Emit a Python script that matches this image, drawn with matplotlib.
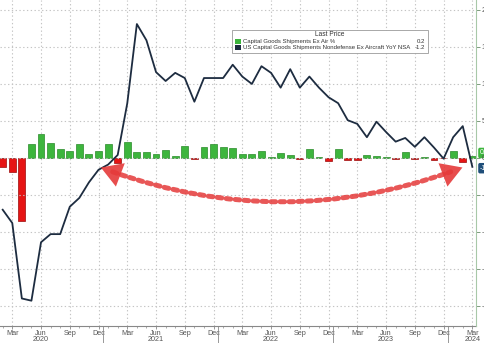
import numpy as np
import matplotlib
matplotlib.use("Agg")
import matplotlib.pyplot as plt
import matplotlib.transforms as mtransforms
from matplotlib.patches import Rectangle, FancyArrowPatch

# monthly data, Feb 2020 .. Mar 2024
month_names = ['Jan', 'Feb', 'Mar', 'Apr', 'May', 'Jun', 'Jul', 'Aug', 'Sep', 'Oct', 'Nov', 'Dec']
start_year, start_month = 2020, 2   # Feb 2020

# US Capital Goods Shipments Nondefense Ex Aircraft YoY NSA (right axis)
yoy = [-7.0, -8.8, -19.0, -19.3, -11.4, -10.3, -10.3, -6.6, -5.4, -3.3, -1.6,
       -0.9, 0.4, 7.4, 18.1, 15.9, 11.6, 10.4, 11.5, 10.8, 7.6, 10.8, 10.8,
       10.8, 12.6, 11.0, 10.0, 12.4, 11.5, 9.5, 12.0, 9.5, 11.0, 9.5, 8.2,
       7.4, 5.1, 4.6, 2.8, 4.9, 3.5, 2.2, 2.7, 1.5, 2.8, 1.4, -0.1,
       2.8, 4.3, -1.2]

# Capital Goods Shipments Ex Air % (MoM, hidden left axis)
mom = [-0.8, -1.3, -5.7, 1.3, 2.2, 1.4, 0.8, 0.6, 1.3, 0.35, 0.65,
       1.3, -0.5, 1.45, 0.55, 0.5, 0.4, 0.7, 0.2, 1.1, -0.1, 1.0, 1.3,
       1.0, 0.9, 0.4, 0.4, 0.65, 0.1, 0.45, 0.3, -0.1, 0.85, 0.1, -0.3,
       0.8, -0.2, -0.2, 0.3, 0.2, 0.05, -0.1, 0.55, -0.1, 0.05, -0.2, -0.05,
       0.6, -0.4, 0.2]

right_ticks = [20, 15, 10, 5, 0, -5, -10, -15, -20]
legend_labels = ['Capital Goods Shipments Ex Air %',
                 'US Capital Goods Shipments Nondefense Ex Aircraft YoY NSA']
last_values = ['0.2', '-1.2']

GREEN = '#3db53d'
GREEN_EDGE = '#2a8a2a'
RED = '#e61414'
RED_EDGE = '#9a0b0b'
NAVY = '#1d2c40'
GRID = '#c4c4c4'
TXT = '#555555'
ARROW = '#e53a3a'

plt.rcParams['font.family'] = ['Liberation Sans', 'DejaVu Sans']

n = len(yoy)
x = np.arange(n)
months = [(start_month - 1 + i) % 12 for i in range(n)]
years = [start_year + (start_month - 1 + i) // 12 for i in range(n)]

fig = plt.figure(figsize=(4.85, 3.43), dpi=100)
ax = fig.add_axes([0.0, 0.05, 0.981, 0.95])
ax2 = ax.twinx()

ylo, yhi = -22.7, 21.35
ax2.set_ylim(ylo, yhi)
ax.set_ylim(ylo * 7.4 / 11, yhi * 7.4 / 11)
ax.set_xlim(-0.28, 49.36)

# bars
colors = [GREEN if v >= 0 else RED for v in mom]
edges = [GREEN_EDGE if v >= 0 else RED_EDGE for v in mom]
ax.bar(x, mom, width=0.72, color=colors, edgecolor=edges, linewidth=0.5, zorder=3)

# line
ax2.plot(x, yoy, color=NAVY, lw=1.3, zorder=4)

# grid
quarter_idx = [i for i in range(n) if months[i] in (2, 5, 8, 11)]
for i in quarter_idx:
    ax.axvline(i, color=GRID, lw=0.8, ls=(0, (1.2, 2.2)), zorder=1)
for t in right_ticks:
    ax2.axhline(t, color=GRID, lw=0.8, ls=(0, (1.2, 2.2)), zorder=1)

# axes styling
ax.yaxis.set_visible(False)
for s in ['top', 'left']:
    ax.spines[s].set_visible(False)
    ax2.spines[s].set_visible(False)
ax.spines['right'].set_visible(False)
ax2.spines['right'].set_color('#a8c8a8')
ax2.spines['bottom'].set_visible(False)
ax.spines['bottom'].set_color('#888888')
ax.spines['bottom'].set_linewidth(0.8)

ax2.set_yticks(right_ticks)
ax2.set_yticklabels([str(t) for t in right_ticks])
ax2.tick_params(axis='y', length=3, width=0.6, colors='#6a8a6a', labelsize=5.5,
                labelcolor=TXT, pad=1)

ax.set_xticks(quarter_idx)
ax.set_xticklabels([month_names[months[i]] for i in quarter_idx])
ax.set_xticks(x, minor=True)
ax.tick_params(axis='x', which='major', length=2.5, width=0.6, colors='#888888',
               labelsize=5.2, labelcolor=TXT, pad=0.8)
ax.tick_params(axis='x', which='minor', length=1.5, width=0.5, colors='#888888')

# year labels and separators
trans = mtransforms.blended_transform_factory(ax.transData, ax.transAxes)
for yr in sorted(set(years)):
    idx = [i for i in range(n) if years[i] == yr]
    pos = [i for i in idx if months[i] == 5]
    if not pos:
        pos = [i for i in idx if months[i] == 2]
    ax.text(pos[0], -0.031, str(yr), transform=trans, ha='center', va='top',
            fontsize=5.2, color=TXT)
    first = idx[0]
    if months[first] == 0:
        ax.plot([first - 0.5, first - 0.5], [0, -0.06], transform=trans,
                color='#888888', lw=0.6, clip_on=False)

# legend box
ax2.add_patch(Rectangle((0.487, 0.837), 0.412, 0.072, transform=ax2.transAxes,
                        facecolor='white', edgecolor='#9a9a9a', lw=0.6, zorder=6))
ax2.text(0.693, 0.893, 'Last Price', transform=ax2.transAxes, ha='center',
         va='center', fontsize=4.8, color='#333333', zorder=7)
for k, (lab, val, c) in enumerate(zip(legend_labels, last_values, [GREEN, NAVY])):
    yy = 0.873 - 0.02 * k
    ax2.add_patch(Rectangle((0.494, yy - 0.007), 0.012, 0.015, transform=ax2.transAxes,
                            facecolor=c, edgecolor='none', zorder=7))
    ax2.text(0.511, yy, lab, transform=ax2.transAxes, ha='left', va='center',
             fontsize=4.3, color='#333333', zorder=7)
    ax2.text(0.893, yy, val, transform=ax2.transAxes, ha='right', va='center',
             fontsize=4.3, color='#333333', zorder=7)

# last value tags on the right axis
ax.annotate(last_values[0], xy=(1.0, mom[-1]), xycoords=('axes fraction', 'data'),
            xytext=(3, 2), textcoords='offset points', fontsize=5, color='white',
            va='center', ha='left', annotation_clip=False,
            bbox=dict(boxstyle='round,pad=0.25', fc=GREEN, ec='none'))
ax2.annotate(last_values[1], xy=(1.0, yoy[-1]), xycoords=('axes fraction', 'data'),
             xytext=(3, -1), textcoords='offset points', fontsize=5, color='white',
             va='center', ha='left', annotation_clip=False,
             bbox=dict(boxstyle='round,pad=0.25', fc='#1f4e79', ec='none'))

# red dotted double arrow: dotted arc + solid heads
p_left, p_right = (0.212, 0.486), (0.972, 0.486)
ax2.add_patch(FancyArrowPatch(p_left, p_right, transform=ax2.transAxes,
                              connectionstyle='arc3,rad=0.19', arrowstyle='-',
                              color=ARROW, alpha=0.85, lw=3.6, ls=(0, (0.9, 0.9)),
                              shrinkA=9, shrinkB=9, zorder=8))
ax2.add_patch(FancyArrowPatch(p_left, p_right, transform=ax2.transAxes,
                              connectionstyle='arc3,rad=0.19',
                              arrowstyle='<|-|>,head_length=7.5,head_width=4.5',
                              mutation_scale=2, color=ARROW, alpha=0.9, lw=0,
                              shrinkA=0, shrinkB=0, zorder=8))

fig.savefig('out.png', dpi=100)
